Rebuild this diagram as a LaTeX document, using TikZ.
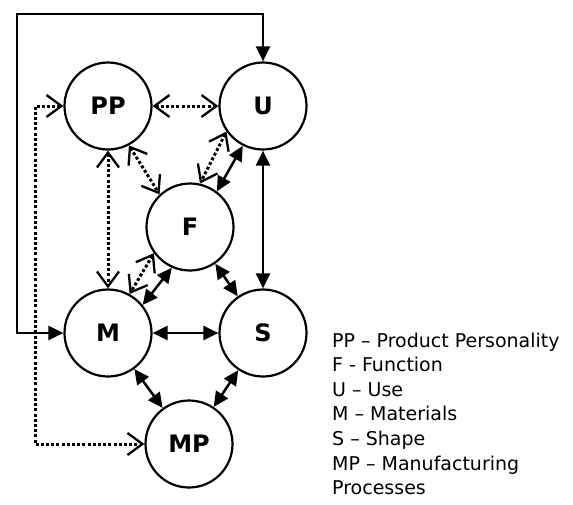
\documentclass[tikz,border=0pt]{standalone}
\usepackage{fontspec}
\setmainfont{DejaVu Sans}
\usetikzlibrary{arrows.meta}
\begin{document}
\begin{tikzpicture}[x=1pt,y=-1pt,
  ball/.style={circle,draw,line width=2.2pt,minimum size=87pt,inner sep=0pt,
    font=\fontsize{24}{24}\selectfont\bfseries},
  solidlink/.style={line width=2.5pt,{Triangle[length=15pt,width=14pt]}-{Triangle[length=15pt,width=14pt]}},
  dotlink/.style={line width=3pt,dash pattern=on 3pt off 2.2pt,
    {Straight Barb[length=15pt,width=22pt,line width=2.3pt]}-{Straight Barb[length=15pt,width=22pt,line width=2.3pt]}},
  legend/.style={anchor=base west,inner sep=0pt,font=\fontsize{19}{19}\selectfont}
]
\useasboundingbox (0,0) rectangle (573,504);
\node[ball] (PP) at (108,106) {PP};
\node[ball] (U) at (263,106) {U};
\node[ball] (F) at (190,227) {F};
\node[ball] (M) at (108,333) {M};
\node[ball] (S) at (263,333) {S};
\node[ball] (MP) at (189,444) {MP};
\coordinate (tl) at (17,14);
\coordinate (tr) at (263,14);
\coordinate (bl) at (17,333);
\coordinate (dtl) at (35,106);
\coordinate (dbl) at (35,444);
% outer solid loop
\draw[solidlink] (U.north) -- (tr) -- (tl) -- (bl) -- (M.west);
% dotted loop
\draw[dotlink] (PP.west) -- (dtl) -- (dbl) -- (MP.west);
% dotted links
\draw[dotlink] (PP) -- (U);
\draw[dotlink] (PP) -- (M);
\draw[dotlink] (PP.298) -- (F.133);
\draw[dotlink] (U.215) -- (F.77);
\draw[dotlink] (F.216) -- (M.61);
% solid links
\draw[solidlink] (U.243) -- (F.53);
\draw[solidlink] (F.246) -- (M.39);
\draw[solidlink] (F) -- (S);
\draw[solidlink] (M) -- (S);
\draw[solidlink] (U) -- (S);
\draw[solidlink] (M) -- (MP);
\draw[solidlink] (S) -- (MP);
% legend
\node[legend] (l1) at (332,347) {PP – Product Personality};
\node[legend] (l2) at (332,371.6) {F - Function};
\node[legend] (l3) at (332,396.2) {U – Use};
\node[legend] (l4) at (332,420.8) {M – Materials};
\node[legend] (l5) at (332,445.4) {S – Shape};
\node[legend] (l6) at (332,470) {MP – Manufacturing};
\node[legend] (l7) at (332,494.6) {Processes};
\end{tikzpicture}
\end{document}
